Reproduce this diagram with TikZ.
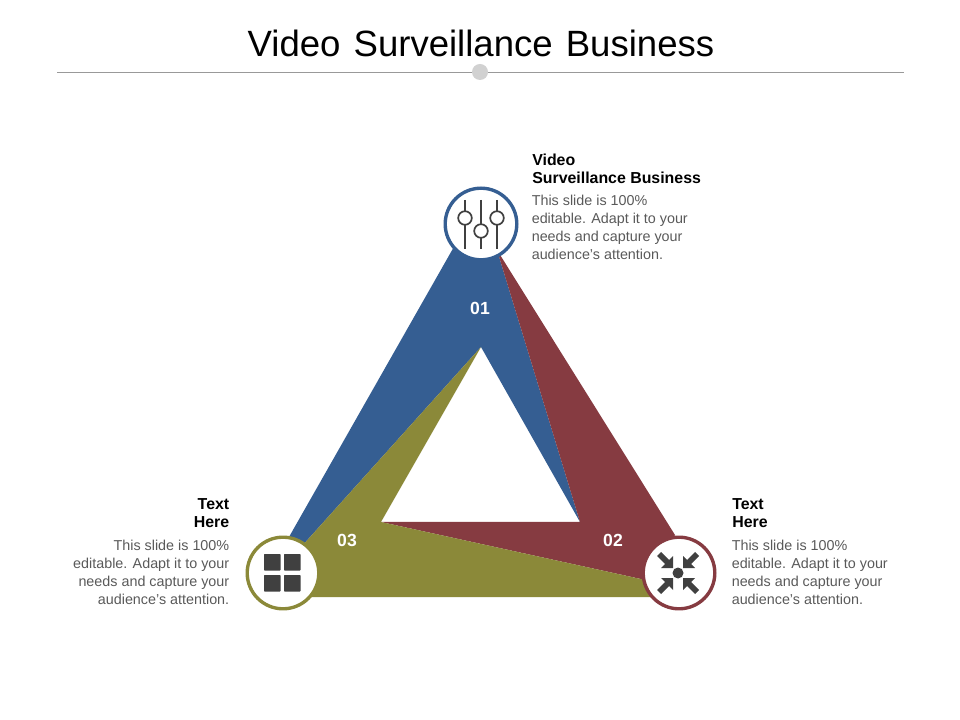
\documentclass[tikz,border=0pt]{standalone}
\usepackage{xcolor}
\usepackage{fontspec}
\setmainfont{Liberation Sans}
\definecolor{blueband}{HTML}{355E92}
\definecolor{redband}{HTML}{863B41}
\definecolor{oliveband}{HTML}{8B8939}
\definecolor{icondark}{HTML}{404040}
\definecolor{bodygray}{HTML}{595959}
\tikzset{
  ring/.style={circle, draw, fill=white, line width=2.4pt, minimum size=1.79cm, inner sep=0pt},
  number/.style={text=white, font=\bfseries\fontsize{12.5}{15}\selectfont},
  head/.style={text=black, font=\bfseries\fontsize{11.3}{12.8}\selectfont, inner sep=0pt},
  body/.style={text=bodygray, font=\fontsize{10.2}{12.76}\selectfont, inner sep=0pt},
  iconline/.style={draw=icondark, line width=1.2pt},
  tile/.style={fill=icondark, rounded corners=0.5pt}
}
\begin{document}
\begin{tikzpicture}[x=0.025cm,y=-0.025cm]
\useasboundingbox (0,0) rectangle (960,720);

% title and rule
\node[text=black, font=\fontsize{26}{32}\selectfont, inner sep=0pt] (title) at (481,43) {Video\hspace{0.08em} Surveillance\hspace{0.08em} Business};
\draw[color=black!40, line width=0.7pt] (57,72.5) -- (904,72.5);
\fill[color=black!18] (480,72) circle (8);

% three bands
\fill[blueband] (455,245) -- (285,544) -- (302,546) -- (481,347) -- (580,522) -- (497,250) -- cycle;
\fill[redband] (497,250) -- (580,522) -- (381,522) -- (650,581) -- (675,535) -- cycle;
\fill[oliveband] (481,347) -- (381,522) -- (650,581) -- (655,597) -- (305,597) -- (302,546) -- cycle;

\node[number] (n01) at (480,308) {01};
\node[number] (n02) at (613,540) {02};
\node[number] (n03) at (347,540) {03};

% rings
\node[ring, draw=blueband] (ringA) at (481,224) {};
\node[ring, draw=redband] (ringB) at (679,573) {};
\node[ring, draw=oliveband] (ringC) at (283,573) {};

% sliders
\foreach \x/\y in {465/218, 481/231, 497/218} {
  \draw[iconline] (\x,200) -- (\x,249);
  \filldraw[iconline, fill=white] (\x,\y) circle (6.8);
}

% grid
\foreach \x/\y in {264/554, 284/554, 264/575, 284/575} {
  \fill[tile] (\x,\y) rectangle ++(16.5,16.5);
}

% arrows
\fill[icondark] (678,573) circle (5.5);
\foreach \ang in {0,90,180,270} {
  \begin{scope}[shift={(678,573)}, rotate=\ang]
    \fill[icondark] (-5,-5) -- (-5,-17) -- (-9,-13) -- (-17,-21) -- (-21,-17) -- (-13,-9) -- (-17,-5) -- cycle;
  \end{scope}
}

% texts
\node[head, align=left, anchor=north west] (headA) at (532,154) {Video\\Surveillance Business};
\node[body, align=left, anchor=north west] (bodyA) at (531.5,195) {This slide is 100\%\\editable. Adapt it to your\\needs and capture your\\audience's attention.};
\node[head, align=left, anchor=north west] (headB) at (732,498) {Text\\Here};
\node[body, align=left, anchor=north west] (bodyB) at (731.5,540) {This slide is 100\%\\editable. Adapt it to your\\needs and capture your\\audience's attention.};
\node[head, align=right, anchor=north east] (headC) at (229.5,498) {Text\\Here};
\node[body, align=right, anchor=north east] (bodyC) at (229.5,540) {This slide is 100\%\\editable. Adapt it to your\\needs and capture your\\audience's attention.};
\end{tikzpicture}
\end{document}
